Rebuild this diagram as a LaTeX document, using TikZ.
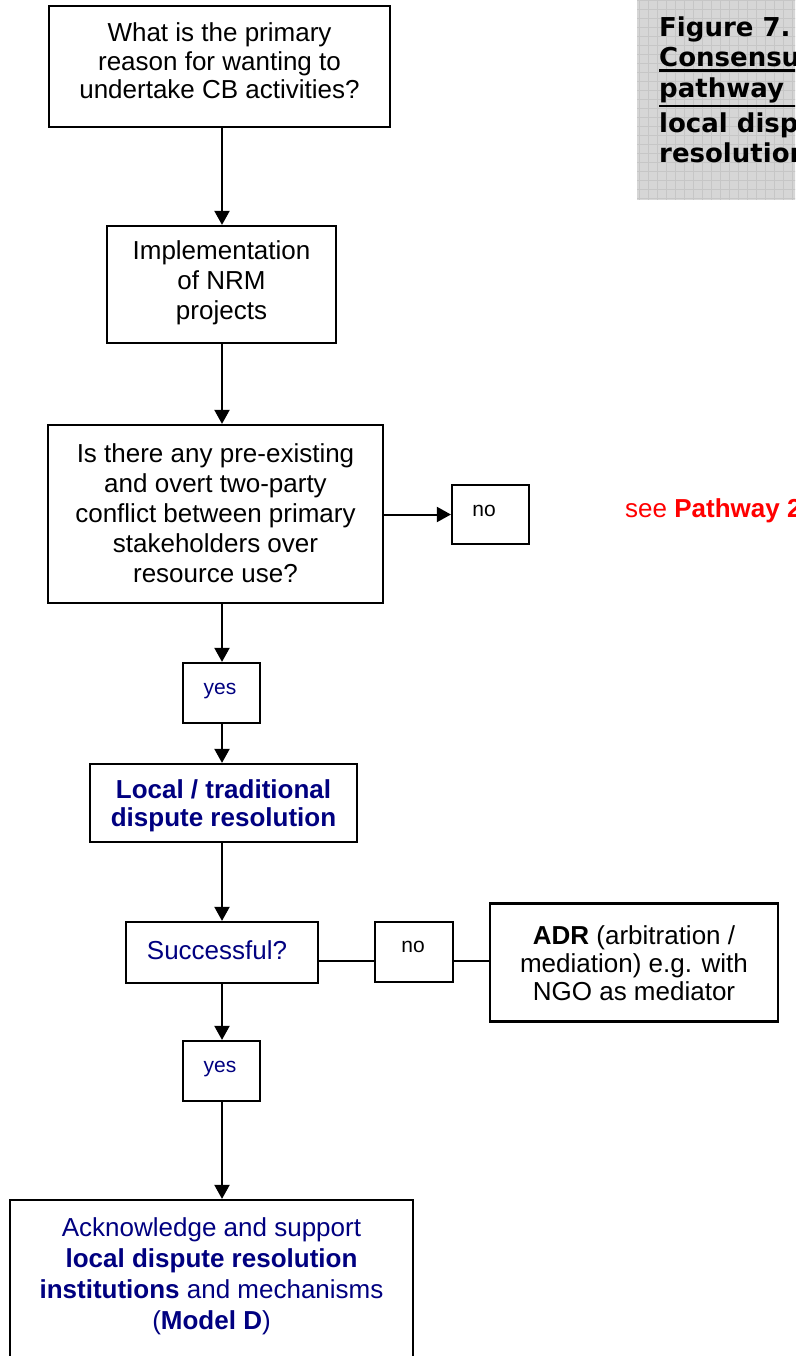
\documentclass[tikz,border=0pt]{standalone}
\usepackage{fontspec}
\setmainfont{Liberation Sans}
\newfontfamily\capfont{DejaVu Sans}
\usetikzlibrary{arrows.meta}
\definecolor{navy}{HTML}{000080}
\definecolor{capgray}{HTML}{D6D6D6}
\definecolor{capgrid}{HTML}{C6C6C6}
\begin{document}
\begin{tikzpicture}[x=1pt,y=-1pt,
  box/.style={draw, line width=2.2pt, rectangle, inner sep=0pt},
  txt/.style={align=center, inner sep=0pt, font=\fontsize{26}{30}\selectfont},
  lbl/.style={inner sep=0pt, font=\fontsize{21}{24}\selectfont},
  captext/.style={inner sep=0pt, anchor=base west, font=\capfont\bfseries\fontsize{26}{30}\selectfont},
  underl/.style={line width=2.2pt},
  arr/.style={line width=2pt, -{Triangle[length=14pt,width=15pt]}},
  link/.style={line width=2pt}]
\useasboundingbox (0,0) rectangle (795,1356);
\clip (0,0) rectangle (795,1356);
\fill[white] (0,0) rectangle (795,1356);

% caption panel with its fine grid texture
\fill[capgray] (637,-5) rectangle (800,200);
\begin{scope}
  \clip (637,-5) rectangle (800,200);
  \draw[capgrid, line width=0.6pt] (637,-5) grid[step=9pt] (800,200);
\end{scope}
\node[captext] (c1) at (659,37) {Figure 7.};
\node[captext] (c2) at (659,66.5) {Consensus};
\node[captext] (c3) at (659,98) {pathway};
\node[captext] (c4) at (659,132.5) {local dispute};
\node[captext] (c5) at (659,163) {resolution};
\draw[underl] ([yshift=-4pt]c2.base west) -- ([yshift=-4pt]c2.base east);
\draw[underl] ([yshift=-8pt]c3.base west) -- ++(150,0);

% spine of the main flow
\coordinate (sp) at (222,0);

% boxes
\node[box, minimum width=341pt, minimum height=121pt] (q1) at (219.5,66.5) {};
\node[txt, font=\fontsize{26}{28.5}\selectfont] (q1t) at (219.5,61) {What is the primary\\reason for wanting to\\undertake CB activities?};

\node[box, minimum width=229pt, minimum height=117pt] (impl) at (221.5,284.5) {};
\node[txt] (implt) at (221.5,283) {Implementation\\of NRM\\projects};

\node[box, minimum width=335pt, minimum height=178pt] (q2) at (215.5,514) {};
\node[txt] (q2t) at (215.5,513) {Is there any pre-existing\\and overt two-party\\conflict between primary\\stakeholders over\\resource use?};

\node[box, minimum width=77pt, minimum height=59pt] (no1) at (490.5,514.5) {};
\node[lbl, anchor=base] (no1t) at (484,516) {no};
\node[inner sep=0pt, anchor=base west, text=red, font=\fontsize{26}{30}\selectfont] (see) at (625,517) {see \textbf{Pathway 2}};

\node[box, minimum width=77pt, minimum height=60pt] (yes1) at (221.5,693) {};
\node[lbl, anchor=base, text=navy] (yes1t) at (220,694) {yes};

\node[box, minimum width=267pt, minimum height=78pt] (loc) at (223.5,803) {};
\node[txt, text=navy, font=\bfseries\fontsize{26}{28}\selectfont] (loct) at (223.5,806) {Local / traditional\\dispute resolution};

\node[box, minimum width=192pt, minimum height=61pt] (succ) at (222,952.5) {};
\node[txt, text=navy] (succt) at (217,950) {Successful?};

\node[box, minimum width=78pt, minimum height=60pt] (no2) at (414,952) {};
\node[lbl, anchor=base] (no2t) at (413,952) {no};

\node[box, minimum width=288pt, minimum height=118pt] (adr) at (634,962.5) {};
\node[txt, font=\fontsize{26}{28}\selectfont] (adrt) at (634,963) {\textbf{ADR} (arbitration /\\mediation) e.g. with\\NGO as mediator};

\node[box, minimum width=77pt, minimum height=60pt] (yes2) at (221.5,1071) {};
\node[lbl, anchor=base, text=navy] (yes2t) at (220,1072) {yes};

\node[box, minimum width=403pt, minimum height=200pt] (fin) at (211.5,1300) {};
\node[txt, text=navy, font=\fontsize{26}{31}\selectfont] (fint) at (211.5,1276) {Acknowledge and support\\\textbf{local dispute resolution}\\\textbf{institutions} and mechanisms\\(\textbf{Model D})};

% connectors
\draw[arr] (q1.south -| sp) -- (impl.north -| sp);
\draw[arr] (impl.south -| sp) -- (q2.north -| sp);
\draw[arr] (q2.east |- no1.west) -- (no1.west);
\draw[arr] (q2.south -| sp) -- (yes1.north -| sp);
\draw[arr] (yes1.south -| sp) -- (loc.north -| sp);
\draw[arr] (loc.south -| sp) -- (succ.north -| sp);
\coordinate (row) at (0,961);
\draw[link] (succ.east |- row) -- (no2.west |- row);
\draw[link] (no2.east |- row) -- (adr.west |- row);
\draw[arr] (succ.south -| sp) -- (yes2.north -| sp);
\draw[arr] (yes2.south -| sp) -- (fin.north -| sp);
\end{tikzpicture}
\end{document}
